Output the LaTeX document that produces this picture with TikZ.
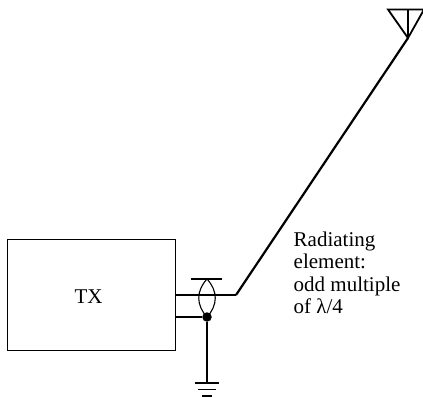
\documentclass[tikz,border=0pt]{standalone}
\usepackage{fontspec}
\setmainfont{Liberation Serif}
\tikzset{
  wire/.style={line width=1.1pt,black},
  radiator/.style={line width=2.2pt,black},
  lbl/.style={font=\fontsize{21}{22.4}\selectfont,inner sep=0pt},
  dot/.style={circle,fill=black,inner sep=0pt,minimum size=9.5pt}
}
\begin{document}
\begin{tikzpicture}[x=1pt,y=-1pt]
\useasboundingbox (0,0) rectangle (423,397);
\node[draw,wire,minimum width=168pt,minimum height=111pt,inner sep=0pt,anchor=north west] (tx) at (7,239) {};
\node[lbl,anchor=base] (txl) at (88.5,303) {TX};
\coordinate (feed) at (236,295);
\coordinate (p1) at (175,295);
\coordinate (p2) at (175,317);
\node[dot] (j) at (207,317) {};
\coordinate (ltop) at (207,279);
\coordinate (g1) at (207,383);
\coordinate (apex) at (408,38);
\draw[wire] (p1) -- (feed);
\draw[wire] (p2) -- (j);
\draw[wire] (191,279) -- (222,279);
\draw[wire] (ltop) .. controls (196,291) and (196,305) .. (j.center);
\draw[wire] (ltop) .. controls (218,291) and (218,305) .. (j.center);
\draw[wire] (j) -- (g1);
\draw[wire] (195,383) -- (219,383);
\draw[wire] (198,389.5) -- (216,389.5);
\draw[wire] (202,396) -- (212,396);
\draw[radiator] (feed) -- (apex);
\draw[wire,line width=1.8pt,line join=miter] (388,9.5) -- (apex) -- (424,9.5) -- cycle;
\draw[wire,line width=1.8pt] (408,9.5) -- (apex);
\node[lbl,anchor=north west,align=left] (t) at (293.5,231.7) {Radiating\\element:\\odd multiple\\of λ/4};
\end{tikzpicture}
\end{document}
